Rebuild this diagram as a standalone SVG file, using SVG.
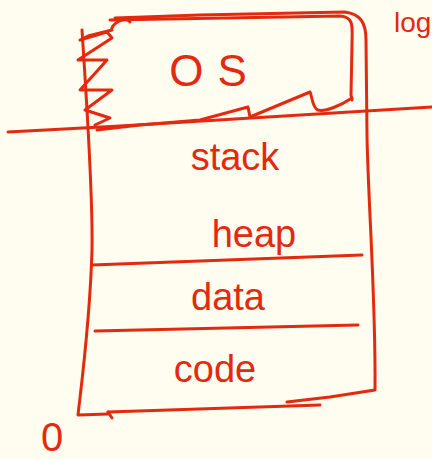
<svg xmlns="http://www.w3.org/2000/svg" width="432" height="459" viewBox="0 0 432 459">
<style>
.s{fill:none;stroke:#E3290F;stroke-width:3;stroke-linecap:round;stroke-linejoin:round}
.t{fill:#E3290F;font-family:"Liberation Sans","DejaVu Sans",sans-serif;text-anchor:middle}
</style>
<rect width="432" height="459" fill="#FFFCF0"/>
<g id="outer-box">
<path class="s" d="M82,30 C86,90 93,200 92,250 C90,320 82,380 78,415 L108,414"/>
<path class="s" d="M108,412 L112,418"/>
<path class="s" d="M108,412 L320,405"/>
<path class="s" d="M287,402 L330,397 L375,390 C376,300 368,200 367,135 L366,40 C366,22 360,14 345,12 L200,15 L115,18"/>
</g>
<g id="os-region">
<path class="s" d="M110,20 L340,16 C355,17 352,28 352,45 L351,95 L352,100"/>
<path class="s" d="M352,98 C340,106 325,112 318,110 C312,108 312,95 310,92 L250,117 L248,107 L200,120 L140,125 L97,130"/>
<path class="s" d="M130,22 C125,15 110,25 112,30 L88,36 L80,40 L107,32 L112,38 L78,60 L107,60 L80,90 L112,90 L85,110 L110,118 L95,125"/>
<text class="t" x="215" y="86" font-size="44" letter-spacing="14">OS</text>
</g>
<g id="divider-line">
<path class="s" d="M8,132 L120,126 L432,107"/>
</g>
<g id="stack">
<text class="t" x="235" y="170" font-size="38">stack</text>
</g>
<g id="heap">
<text class="t" x="254" y="247" font-size="38">heap</text>
<path class="s" d="M92,265 L362,255"/>
</g>
<g id="data">
<text class="t" x="228" y="310" font-size="38">data</text>
<path class="s" d="M95,331 L358,325"/>
</g>
<g id="code">
<text class="t" x="215" y="382" font-size="38">code</text>
</g>
<g id="labels">
<text class="t" x="52" y="451" font-size="40">0</text>
<text class="t" x="394" y="32" font-size="28" style="text-anchor:start">log</text>
</g>
</svg>
